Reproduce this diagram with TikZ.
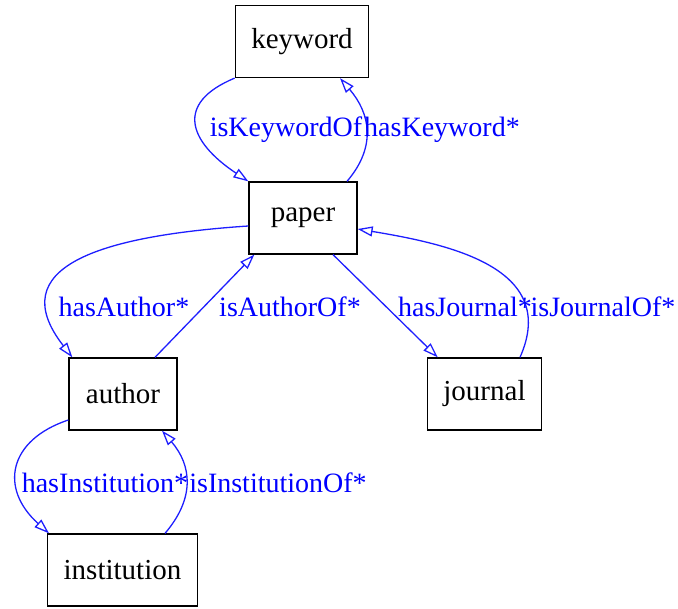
\documentclass[tikz,border=0pt]{standalone}
\usepackage{fontspec}
\setmainfont{Liberation Serif}
\usetikzlibrary{arrows.meta}
\begin{document}
\begin{tikzpicture}[x=1pt,y=1pt,
  box/.style={draw, line width=1.3pt, minimum height=72pt, minimum width=108pt, inner xsep=16pt, font=\fontsize{29}{33}\selectfont},
  rel/.style={draw={rgb,255:red,30;green,30;blue,255}, line width=1.3pt, -{Triangle[open,length=15pt,width=10pt]}},
  lbl/.style={text=blue, inner sep=0pt, font=\fontsize{28}{32}\selectfont}]
\useasboundingbox (0,0) rectangle (678,-609);
\node[box] (keyword) at (302,-41.5) {keyword};
\node[box] (paper) at (303,-218) {paper};
\node[box] (author) at (123,-394) {author};
\node[box] (journal) at (484.5,-394) {journal};
\node[box] (institution) at (122.5,-570) {institution};

\path[rel] (keyword.south west) .. controls +(-60,-25) and +(-60,40) .. (paper.north west);
\path[rel] ([xshift=44pt]paper.north) .. controls +(30,35) and +(30,-35) .. ([xshift=38pt]keyword.south);
\path[rel] ([yshift=-8pt]paper.west) .. controls +(-150,-10) and +(-70,90) .. ([xshift=4pt]author.north west);
\path[rel] ([xshift=32pt]author.north) -- ([xshift=6pt]paper.south west);
\path[rel] ([xshift=30pt]paper.south) -- ([xshift=11pt]journal.north west);
\path[rel] ([xshift=35.5pt]journal.north) .. controls +(40,90) and +(90,-15) .. ([yshift=-11pt]paper.east);
\path[rel] ([yshift=-26pt]author.west) .. controls +(-60,-20) and +(-50,45) .. ([xshift=2pt]institution.north west);
\path[rel] ([xshift=42.5pt]institution.north) .. controls +(30,35) and +(30,-35) .. ([xshift=39pt]author.south);

\node[lbl] (isKeywordOf) at (286,-130) {isKeywordOf};
\node[lbl] (hasKeyword) at (442,-130) {hasKeyword*};
\node[lbl] (hasAuthor) at (124,-307) {hasAuthor*};
\node[lbl] (isAuthorOf) at (290,-307) {isAuthorOf*};
\node[lbl] (hasJournal) at (465,-307) {hasJournal*};
\node[lbl] (isJournalOf) at (603,-307) {isJournalOf*};
\node[lbl] (hasInstitution) at (105,-483) {hasInstitution*};
\node[lbl] (isInstitutionOf) at (278,-483) {isInstitutionOf*};
\end{tikzpicture}
\end{document}
